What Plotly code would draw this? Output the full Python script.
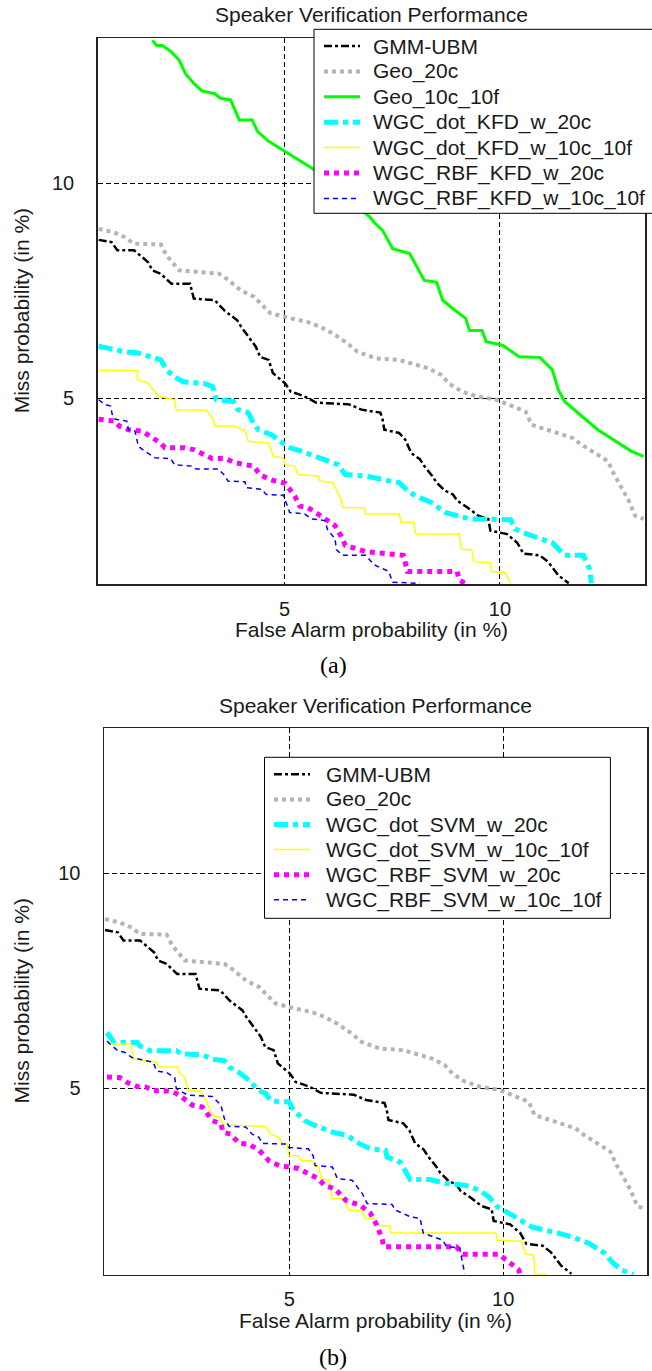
import plotly.graph_objects as go
from statistics import NormalDist

# ---------------- data (all values in %) ----------------
AXIS_LIMITS = [2.5, 15.0]
TICK_VALUES = [5, 10]
TICK_LABELS = ["5", "10"]

# shared baselines (identical in both panels)
GMM_X = [2.51, 2.64, 2.70, 2.88, 2.97, 3.04, 3.09, 3.19, 3.32, 3.56, 3.61, 3.90, 4.04, 4.23, 4.29,
         4.42, 4.52, 4.59, 4.73, 4.80, 4.94, 5.01, 5.11, 5.27, 5.42, 5.57, 6.23, 6.49, 6.90, 6.95,
         6.99, 7.33, 7.48, 7.62, 7.83, 7.94, 8.14, 8.25, 8.47, 8.68, 8.79, 9.08, 9.37, 9.66, 9.72,
         10.21, 10.52, 10.71, 11.23, 11.50, 11.84, 12.19]
GMM_Y = [8.42, 8.36, 8.15, 8.15, 7.98, 7.85, 7.65, 7.57, 7.33, 7.33, 6.99, 6.95, 6.72, 6.51, 6.37,
         6.13, 5.96, 5.76, 5.70, 5.45, 5.33, 5.26, 5.11, 5.06, 5.00, 4.92, 4.89, 4.80, 4.75, 4.64,
         4.47, 4.42, 4.31, 4.11, 4.02, 3.92, 3.78, 3.69, 3.58, 3.53, 3.45, 3.36, 3.26, 3.22, 3.08,
         3.04, 2.94, 2.82, 2.80, 2.73, 2.59, 2.51]

GEO20_X = [2.51, 2.66, 2.78, 2.88, 3.19, 3.26, 3.42, 3.63, 3.96, 4.07, 4.29, 4.49, 4.76, 5.11, 5.42,
           5.65, 5.90, 6.19, 6.40, 6.58, 6.81, 7.33, 7.62, 8.04, 8.36, 8.57, 8.90, 9.31, 9.89, 10.26,
           10.78, 10.97, 11.78, 12.33, 12.62, 13.21, 13.58, 13.81, 14.13, 14.36, 14.60, 14.93]
GEO20_Y = [8.71, 8.62, 8.49, 8.32, 8.30, 8.02, 7.65, 7.61, 7.57, 7.45, 7.17, 7.03, 6.66, 6.55, 6.47,
           6.37, 6.23, 6.03, 5.86, 5.80, 5.73, 5.70, 5.64, 5.54, 5.42, 5.26, 5.12, 5.03, 4.97, 4.89,
           4.77, 4.55, 4.42, 4.34, 4.24, 4.08, 3.99, 3.80, 3.60, 3.45, 3.26, 3.22]

# panel (a): KFD
GEO10_X = [3.09, 3.14, 3.21, 3.32, 3.42, 3.50, 3.61, 3.72, 3.90, 3.98, 4.13, 4.26, 4.46, 4.55, 4.73,
           5.01, 5.18, 5.49, 6.67, 6.76, 6.95, 7.18, 7.58, 7.73, 7.94, 8.25, 8.41, 8.68, 9.02, 9.13,
           9.48, 9.60, 10.08, 10.58, 11.23, 11.64, 11.84, 12.05, 12.62, 12.77, 13.21, 13.81, 14.45, 14.93]
GEO10_Y = [14.92, 14.72, 14.72, 14.47, 14.15, 13.65, 13.29, 13.02, 12.92, 12.76, 12.70, 12.01, 12.01,
           11.62, 11.30, 10.98, 10.77, 10.46, 9.03, 8.89, 8.67, 8.19, 8.07, 7.77, 7.41, 7.37, 6.95,
           6.76, 6.55, 6.29, 6.29, 6.06, 5.99, 5.76, 5.75, 5.51, 5.14, 4.94, 4.69, 4.64, 4.47, 4.31,
           4.14, 4.06]

KFD_DOT20_X = [2.51, 2.66, 2.78, 2.92, 3.06, 3.19, 3.26, 3.36, 3.47, 3.75, 3.87, 3.92, 4.17, 4.24,
               4.40, 4.48, 4.56, 4.78, 4.92, 5.09, 5.30, 5.49, 5.74, 6.00, 6.15, 6.58, 7.13, 7.33,
               7.53, 7.73, 8.14, 8.47, 9.13, 10.32, 10.45, 10.83, 11.64, 12.05, 12.70, 12.91, 12.98]
KFD_DOT20_Y = [5.97, 5.90, 5.86, 5.84, 5.76, 5.70, 5.51, 5.38, 5.29, 5.26, 5.20, 4.97, 4.94, 4.80,
               4.75, 4.58, 4.47, 4.39, 4.29, 4.19, 4.14, 4.08, 4.02, 3.94, 3.80, 3.78, 3.71, 3.69,
               3.58, 3.51, 3.42, 3.30, 3.22, 3.21, 3.10, 3.04, 2.94, 2.80, 2.80, 2.66, 2.51]

KFD_DOT10_X = [2.51, 2.92, 2.92, 3.04, 3.16, 3.36, 3.38, 3.78, 3.88, 3.90, 4.19, 4.35, 4.40, 4.73,
               4.81, 4.98, 5.01, 5.18, 5.24, 5.61, 5.65, 5.90, 6.06, 6.10, 6.54, 6.58, 7.33, 7.38,
               7.68, 7.73, 8.85, 8.90, 9.19, 9.25, 9.71, 9.77, 10.15, 10.32]
KFD_DOT10_Y = [5.50, 5.50, 5.33, 5.26, 5.03, 4.97, 4.80, 4.79, 4.64, 4.53, 4.53, 4.45, 4.29, 4.26,
               4.06, 4.04, 3.94, 3.92, 3.80, 3.78, 3.71, 3.69, 3.47, 3.36, 3.36, 3.28, 3.28, 3.18,
               3.18, 3.04, 3.04, 2.87, 2.86, 2.73, 2.72, 2.63, 2.62, 2.51]

KFD_RBF20_X = [2.51, 2.67, 2.72, 2.82, 2.97, 3.09, 3.19, 3.24, 3.49, 3.62, 3.76, 3.86, 4.05, 4.19,
               4.48, 4.59, 4.75, 5.01, 5.09, 5.18, 5.27, 5.42, 5.61, 5.80, 5.94, 6.06, 6.15, 6.58,
               7.43, 7.53, 8.79, 8.85, 9.02]
KFD_RBF20_Y = [4.64, 4.61, 4.53, 4.47, 4.45, 4.34, 4.26, 4.19, 4.19, 4.16, 4.08, 4.03, 4.03, 3.97,
               3.92, 3.80, 3.73, 3.68, 3.60, 3.51, 3.38, 3.36, 3.28, 3.20, 3.14, 3.02, 2.91, 2.84,
               2.80, 2.63, 2.63, 2.54, 2.51]

KFD_RBF10_X = [2.51, 2.57, 2.63, 2.65, 2.68, 2.80, 2.82, 2.89, 2.93, 3.00, 3.12, 3.31, 3.36, 3.58,
               3.64, 3.95, 4.05, 4.09, 4.35, 4.37, 4.61, 4.69, 4.98, 5.01, 5.09, 5.36, 5.49, 5.74,
               5.80, 5.94, 5.97, 6.10, 6.58, 6.76, 7.09, 7.18, 7.83]
KFD_RBF10_Y = [4.97, 4.89, 4.86, 4.69, 4.64, 4.61, 4.47, 4.45, 4.21, 4.14, 4.04, 4.03, 3.94, 3.92,
               3.88, 3.88, 3.78, 3.71, 3.70, 3.62, 3.60, 3.53, 3.52, 3.45, 3.30, 3.28, 3.22, 3.20,
               3.08, 2.99, 2.86, 2.80, 2.80, 2.70, 2.63, 2.52, 2.51]

# panel (b): SVM
SVM_DOT20_X = [2.53, 2.60, 2.85, 2.88, 2.99, 3.31, 3.37, 3.65, 3.79, 3.96, 4.03, 4.18, 4.28, 4.38,
               4.49, 4.60, 4.68, 4.82, 4.99, 5.04, 5.13, 5.28, 5.39, 5.80, 6.10, 6.34, 6.59, 6.92,
               6.96, 7.26, 7.38, 7.50, 7.99, 8.37, 8.94, 9.31, 9.59, 9.83, 10.27, 10.88, 11.74, 12.18,
               12.78, 13.37, 13.67, 13.98, 14.46]
SVM_DOT20_Y = [6.05, 5.85, 5.85, 5.78, 5.69, 5.69, 5.63, 5.61, 5.53, 5.50, 5.38, 5.28, 5.19, 5.07,
               4.96, 4.91, 4.79, 4.77, 4.77, 4.68, 4.58, 4.46, 4.41, 4.28, 4.23, 4.11, 4.03, 4.01,
               3.91, 3.84, 3.70, 3.60, 3.60, 3.55, 3.52, 3.46, 3.37, 3.25, 3.15, 3.01, 2.94, 2.90,
               2.83, 2.72, 2.62, 2.55, 2.50]

SVM_DOT10_X = [2.53, 2.78, 2.81, 2.95, 3.07, 3.09, 3.33, 3.35, 3.42, 3.46, 3.63, 3.70, 3.79, 3.89,
               3.94, 4.60, 4.68, 4.82, 4.88, 4.96, 4.99, 5.16, 5.22, 5.40, 5.45, 5.54, 5.58, 5.74,
               5.80, 6.03, 6.13, 6.41, 6.48, 6.70, 6.76, 7.03, 7.04, 9.78, 9.83, 10.57, 10.68, 10.94,
               10.99, 11.36]
SVM_DOT10_Y = [5.82, 5.82, 5.53, 5.50, 5.47, 5.38, 5.38, 5.28, 5.19, 4.96, 4.95, 4.79, 4.54, 4.52,
               4.39, 4.37, 4.25, 4.20, 4.11, 4.10, 3.93, 3.93, 3.86, 3.86, 3.79, 3.77, 3.61, 3.59,
               3.35, 3.35, 3.21, 3.20, 3.11, 3.10, 3.03, 3.02, 2.94, 2.94, 2.86, 2.85, 2.71, 2.70,
               2.51, 2.50]

SVM_RBF20_X = [2.53, 2.66, 2.74, 2.85, 2.95, 3.03, 3.23, 3.31, 3.44, 3.52, 3.65, 3.70, 3.79, 3.91,
               3.94, 4.05, 4.18, 4.33, 4.49, 4.65, 4.82, 4.99, 5.16, 5.34, 5.53, 5.65, 5.85, 6.07,
               6.37, 6.59, 6.73, 6.85, 6.88, 8.67, 8.85, 9.87, 10.17, 10.47, 10.52]
SVM_RBF20_Y = [5.20, 5.19, 5.10, 5.03, 5.02, 4.96, 4.95, 4.91, 4.79, 4.71, 4.68, 4.60, 4.46, 4.41,
               4.28, 4.25, 4.11, 4.10, 4.01, 3.86, 3.79, 3.77, 3.75, 3.68, 3.61, 3.52, 3.48, 3.33,
               3.27, 3.17, 3.03, 2.87, 2.79, 2.79, 2.71, 2.71, 2.62, 2.55, 2.50]

SVM_RBF10_X = [2.53, 2.56, 2.64, 2.71, 2.79, 2.88, 3.03, 3.07, 3.19, 3.29, 3.31, 3.46, 3.79, 3.91,
               3.96, 4.03, 4.28, 4.38, 4.49, 4.54, 4.96, 4.99, 5.34, 5.43, 5.47, 5.80, 5.90, 6.20,
               6.41, 6.52, 7.07, 7.15, 7.50, 7.74, 7.82, 8.32, 8.41, 8.76, 8.85, 8.90]
SVM_RBF10_Y = [5.88, 5.82, 5.69, 5.66, 5.56, 5.53, 5.47, 5.31, 5.28, 5.19, 4.99, 4.88, 4.86, 4.71,
               4.49, 4.37, 4.36, 4.25, 4.20, 4.11, 4.10, 4.05, 4.03, 3.93, 3.79, 3.77, 3.61, 3.59,
               3.42, 3.29, 3.28, 3.21, 3.13, 3.11, 2.94, 2.86, 2.79, 2.78, 2.62, 2.51]

NAMES_A = ["GMM-UBM", "Geo_20c", "Geo_10c_10f", "WGC_dot_KFD_w_20c", "WGC_dot_KFD_w_10c_10f",
           "WGC_RBF_KFD_w_20c", "WGC_RBF_KFD_w_10c_10f"]
NAMES_B = ["GMM-UBM", "Geo_20c", "WGC_dot_SVM_w_20c", "WGC_dot_SVM_w_10c_10f",
           "WGC_RBF_SVM_w_20c", "WGC_RBF_SVM_w_10c_10f"]

TITLE = "Speaker Verification Performance"
XTITLE = "False Alarm probability (in %)"
YTITLE = "Miss probability (in %)"
CAPTIONS = ["(a)", "(b)"]

# ---------------- styles / layout ----------------
STYLE = {
    "gmm":   dict(color="#000000", width=2.5, dash="8px,3px,3px,3px"),
    "geo20": dict(color="#b4b4b4", width=4, dash="4px,4px"),
    "geo10": dict(color="#00ff00", width=3, dash="solid"),
    "dot20": dict(color="#00ffff", width=5, dash="14px,5px,5px,5px"),
    "dot10": dict(color="#ffff00", width=1.5, dash="solid"),
    "rbf20": dict(color="#ff00ff", width=5, dash="5px,5px"),
    "rbf10": dict(color="#0000ff", width=1.5, dash="5px,4px"),
}

SERIES_A = [(NAMES_A[0], GMM_X, GMM_Y, "gmm"),
            (NAMES_A[1], GEO20_X, GEO20_Y, "geo20"),
            (NAMES_A[2], GEO10_X, GEO10_Y, "geo10"),
            (NAMES_A[3], KFD_DOT20_X, KFD_DOT20_Y, "dot20"),
            (NAMES_A[4], KFD_DOT10_X, KFD_DOT10_Y, "dot10"),
            (NAMES_A[5], KFD_RBF20_X, KFD_RBF20_Y, "rbf20"),
            (NAMES_A[6], KFD_RBF10_X, KFD_RBF10_Y, "rbf10")]
SERIES_B = [(NAMES_B[0], GMM_X, GMM_Y, "gmm"),
            (NAMES_B[1], GEO20_X, GEO20_Y, "geo20"),
            (NAMES_B[2], SVM_DOT20_X, SVM_DOT20_Y, "dot20"),
            (NAMES_B[3], SVM_DOT10_X, SVM_DOT10_Y, "dot10"),
            (NAMES_B[4], SVM_RBF20_X, SVM_RBF20_Y, "rbf20"),
            (NAMES_B[5], SVM_RBF10_X, SVM_RBF10_Y, "rbf10")]

W, H = 652, 1371
FONT = "Liberation Sans, Arial, sans-serif"
TXT = "#1a1a1a"

_nd = NormalDist()


def probit(values):
    return [_nd.inv_cdf(v / 100.0) for v in values]


def px(x):
    return x / W


def py(y):
    return 1 - y / H


PANELS = [
    dict(series=SERIES_A, xdom=(97.7, 645.3), ydom=(38.3, 584.3), title_y=15, xt_y=630, cap_y=665,
         legend=dict(left=314, right=700, top=29.3, bottom=213.3, row0=46, step=25.4,
                     s0=324, s1=360, tx=371)),
    dict(series=SERIES_B, xdom=(104.0, 647.4), ydom=(728.3, 1274.7), title_y=705, xt_y=1320, cap_y=1357,
         legend=dict(left=264.5, right=610.4, top=757.3, bottom=918.3, row0=774.3, step=25.1,
                     s0=274, s1=310, tx=323.5)),
]

fig = go.Figure()
shapes, annotations = [], []
layout_axes = {}

for i, panel in enumerate(PANELS):
    sfx = "" if i == 0 else str(i + 1)
    for name, xs, ys, key in panel["series"]:
        st = STYLE[key]
        fig.add_trace(go.Scatter(x=probit(xs), y=probit(ys), mode="lines", name=name,
                                 xaxis="x" + sfx, yaxis="y" + sfx, showlegend=False,
                                 hoverinfo="skip",
                                 line=dict(color=st["color"], width=st["width"], dash=st["dash"])))
    common = dict(range=probit(AXIS_LIMITS), tickvals=probit(TICK_VALUES), ticktext=TICK_LABELS,
                  showgrid=True, gridcolor="#000000", gridwidth=1, griddash="5px,3px",
                  zeroline=False, showline=True, linecolor="#222222", linewidth=1.5, mirror=True,
                  ticks="", tickfont=dict(family=FONT, size=20, color=TXT), fixedrange=True)
    x0, x1 = panel["xdom"]
    y0, y1 = panel["ydom"]
    layout_axes["xaxis" + sfx] = dict(common, domain=[px(x0), px(x1)], anchor="y" + sfx,
                                      ticklabelstandoff=6)
    layout_axes["yaxis" + sfx] = dict(common, domain=[py(y1), py(y0)], anchor="x" + sfx,
                                      ticklabelstandoff=18)
    cx = (x0 + x1) / 2
    cy = (y0 + y1) / 2
    annotations += [
        dict(text=TITLE, x=px(cx), y=py(panel["title_y"]), xref="paper", yref="paper",
             xanchor="center", yanchor="middle", showarrow=False,
             font=dict(family=FONT, size=21, color=TXT)),
        dict(text=XTITLE, x=px(cx), y=py(panel["xt_y"]), xref="paper", yref="paper",
             xanchor="center", yanchor="middle", showarrow=False,
             font=dict(family=FONT, size=21, color=TXT)),
        dict(text=YTITLE, x=px(21), y=py(cy), xref="paper", yref="paper", textangle=-90,
             xanchor="center", yanchor="middle", showarrow=False,
             font=dict(family=FONT, size=21, color=TXT)),
        dict(text=CAPTIONS[i], x=px(333), y=py(panel["cap_y"]), xref="paper", yref="paper",
             xanchor="center", yanchor="middle", showarrow=False,
             font=dict(family="Liberation Serif, Times New Roman, serif", size=24, color="#000000")),
    ]
    # legend box (drawn on top of the plot, like the original)
    lg = panel["legend"]
    shapes.append(dict(type="rect", xref="paper", yref="paper", layer="above",
                       x0=px(lg["left"]), x1=px(lg["right"]), y0=py(lg["bottom"]), y1=py(lg["top"]),
                       fillcolor="white", line=dict(color="#000000", width=1)))
    for k, (name, xs, ys, key) in enumerate(panel["series"]):
        st = STYLE[key]
        yy = lg["row0"] + k * lg["step"]
        shapes.append(dict(type="line", xref="paper", yref="paper", layer="above",
                           x0=px(lg["s0"]), x1=px(lg["s1"]), y0=py(yy), y1=py(yy),
                           line=dict(color=st["color"], width=st["width"], dash=st["dash"])))
        annotations.append(dict(text=name, x=px(lg["tx"]), y=py(yy), xref="paper", yref="paper",
                                xanchor="left", yanchor="middle", showarrow=False,
                                font=dict(family=FONT, size=21, color=TXT)))

fig.update_layout(width=W, height=H, margin=dict(l=0, r=0, t=0, b=0),
                  paper_bgcolor="white", plot_bgcolor="white", showlegend=False,
                  shapes=shapes, annotations=annotations, **layout_axes)

fig.write_html("out.html", config={"displayModeBar": False, "staticPlot": True},
               post_script="document.body.style.margin='0';document.body.style.overflow='hidden';")
